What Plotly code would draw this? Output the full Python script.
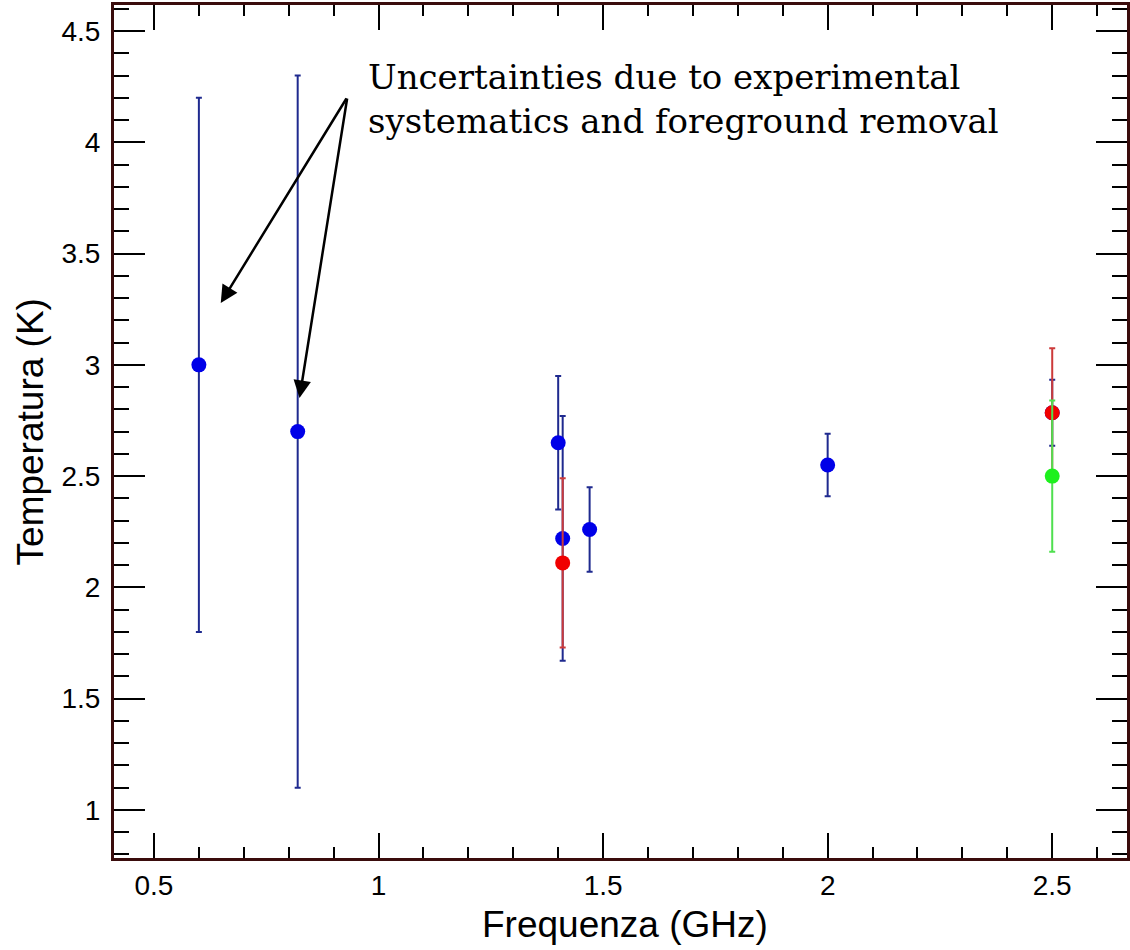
import plotly.graph_objects as go

# Data (frequency GHz, temperature K, symmetric uncertainty K)
blue_freq = [0.6, 0.82, 1.40, 1.41, 1.47, 2.0, 2.5]
blue_temp = [3.0, 2.7, 2.65, 2.22, 2.26, 2.55, 2.785]
blue_err = [1.2, 1.6, 0.30, 0.55, 0.19, 0.14, 0.148]

red_freq = [1.41, 2.5]
red_temp = [2.11, 2.785]
red_err = [0.38, 0.29]

green_freq = [2.5]
green_temp = [2.50]
green_err = [0.34]

x_ticks = [0.5, 1, 1.5, 2, 2.5]
y_ticks = [1, 1.5, 2, 2.5, 3, 3.5, 4, 4.5]

note_text = "Uncertainties due to experimental<br>systematics and foreground removal"

fig = go.Figure()


def add_series(xs, ys, es, mcolor, ecolor):
    fig.add_trace(go.Scatter(
        x=xs, y=ys, mode="markers",
        marker=dict(color=mcolor, size=15, line=dict(width=0)),
        error_y=dict(type="data", array=es, visible=True, color=ecolor,
                     thickness=2, width=3),
        showlegend=False,
    ))


add_series(blue_freq, blue_temp, blue_err, "#0000e8", "#1f2a8f")
add_series(red_freq, red_temp, red_err, "#f00000", "#cc3a3a")
add_series(green_freq, green_temp, green_err, "#1ef01e", "#4fe04f")

sans = "Liberation Sans, Arial, sans-serif"
axis_common = dict(
    showline=True, linecolor="#3a0c0c", linewidth=3, mirror="ticks",
    ticks="inside", tickcolor="black", tickwidth=2,
    showgrid=False, zeroline=False,
    tickfont=dict(family=sans, size=28, color="black"),
)

fig.update_xaxes(
    range=[0.411, 2.6665], tickvals=x_ticks, ticktext=[str(v) for v in x_ticks],
    ticklen=25, ticklabelstandoff=0,
    minor=dict(dtick=0.1, tick0=0, ticks="inside", ticklen=11, tickwidth=2, tickcolor="black", showgrid=False),
    **axis_common,
)
fig.update_yaxes(
    range=[0.784, 4.617], tickvals=y_ticks, ticktext=[str(v) for v in y_ticks],
    ticklen=31, ticklabelstandoff=5,
    minor=dict(dtick=0.1, tick0=0, ticks="inside", ticklen=15, tickwidth=2, tickcolor="black", showgrid=False),
    **axis_common,
)

ann = []
# axis titles
ann.append(dict(text="Frequenza (GHz)", xref="paper", yref="paper", x=0.5049, y=-0.0774,
                showarrow=False, xanchor="center", yanchor="middle",
                font=dict(family=sans, size=37, color="black")))
ann.append(dict(text="Temperatura (K)", xref="paper", yref="paper", x=-0.082, y=0.5,
                textangle=-90, showarrow=False, xanchor="center", yanchor="middle",
                font=dict(family=sans, size=37, color="black")))
# note
ann.append(dict(text=note_text, xref="x", yref="y", x=0.972, y=4.194,
                showarrow=False, xanchor="left", yanchor="middle", align="left",
                font=dict(family="DejaVu Serif, serif", size=34, color="black")))
# arrows
tail = (0.9306, 4.2035)
for tip in [(0.6487, 3.278), (0.824, 2.851)]:
    ann.append(dict(x=tip[0], y=tip[1], ax=tail[0], ay=tail[1], xref="x", yref="y",
                    axref="x", ayref="y", showarrow=True, arrowhead=2, arrowsize=1.4,
                    arrowwidth=2.5, arrowcolor="black", text=""))

fig.update_layout(
    width=1130, height=950,
    margin=dict(l=114, r=0, t=5, b=92),
    plot_bgcolor="white", paper_bgcolor="white",
    annotations=ann,
)

fig.write_html("out.html")
